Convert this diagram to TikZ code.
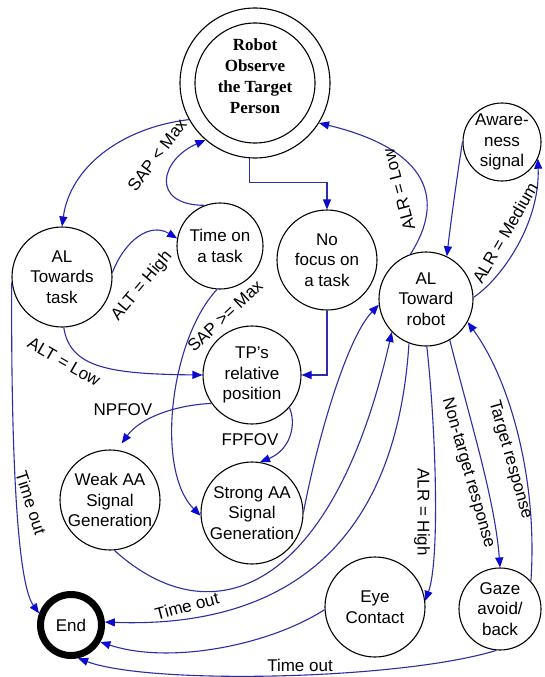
\documentclass[tikz,border=0pt]{standalone}
\usepackage{fontspec}
\setmainfont{Liberation Sans}
\newfontfamily\headfont{Liberation Serif}
\usetikzlibrary{arrows.meta}
\definecolor{edgecol}{RGB}{45,45,165}
\definecolor{arrowcol}{RGB}{10,10,210}
\newcommand\statefont{\fontsize{17}{20.5}\selectfont}
\tikzset{
  state/.style={circle, draw=black, line width=1.1pt, inner sep=0pt, align=center, font=\statefont},
  link/.style={draw=edgecol, line width=1.1pt, -{Triangle[length=10pt,width=8pt,color=arrowcol]}},
  lbl/.style={font=\statefont, inner sep=0pt}
}
\begin{document}
\begin{tikzpicture}[x=1pt,y=-1pt]
\useasboundingbox[fill=white] (0,0) rectangle (545,677);

% states
\node[state, minimum size=150pt] (robot) at (255,83) {};
\draw[line width=1.1pt] (robot.center) circle[radius=60pt];
\node[align=center, font={\headfont\bfseries\fontsize{17}{21}\selectfont}, inner sep=0pt] (robottext) at (255,76) {Robot\\Observe\\the Target\\Person};
\node[state, minimum size=100pt] (altask) at (62,277) {AL\\Towards\\task};
\node[state, minimum size=86pt] (timetask) at (220,246) {Time on\\a task};
\node[state, minimum size=100pt] (nofocus) at (327,260) {No\\focus on\\a task};
\node[state, minimum size=78pt] (aware) at (502,142) {Aware-\\ness\\signal};
\node[state, minimum size=94pt] (alrobot) at (426,299) {AL\\Toward\\robot};
\node[state, minimum size=98pt] (tp) at (252,375) {TP's\\relative\\position};
\node[state, minimum size=100pt] (weakaa) at (110,500) {Weak AA\\Signal\\Generation};
\node[state, minimum size=102pt] (strongaa) at (252,513) {Strong AA\\Signal\\Generation};
\node[state, minimum size=100pt] (eye) at (375,607) {Eye\\Contact};
\node[state, minimum size=82pt] (gaze) at (500,609) {Gaze\\avoid/\\back};
\node[state, minimum size=61pt, line width=7pt] (end) at (71,625) {End};

% transitions
\draw[link] (robot.209) .. controls (120,128) and (70,168) .. (altask.90);
\draw[link] (timetask.111) .. controls (150,205) and (160,160) .. (robot.229);
\node[lbl, rotate=53] (lsapmin) at (157,155) {SAP < Max};
\draw[link] (robot.266) -- ++(0,24) -| (nofocus.north);
\draw[link] (altask.5) .. controls (125,240) and (150,222) .. (timetask.170);
\node[lbl, rotate=50] (lalthigh) at (142,286) {ALT = High};
\draw[link] (altask.272) .. controls (70,368) and (110,374) .. (tp.180);
\node[lbl, rotate=-30] (laltlow) at (64,362) {ALT = Low};
\draw[link] (timetask.266) .. controls (170,340) and (155,470) .. (strongaa.183);
\node[lbl, rotate=43] (lsapmax) at (225,316) {SAP >= Max};
\draw[link] (nofocus.south) |- (tp.east);
\draw[link, shorten >=8pt] (tp.215) .. controls (175,405) and (140,418) .. (weakaa.82);
\node[lbl] (lnpfov) at (123,410) {NPFOV};
\draw[link] (tp.319) .. controls (297,425) and (290,450) .. (strongaa.81);
\node[lbl] (lfpfov) at (250,440) {FPFOV};
\draw[link] (strongaa.1) .. controls (315,450) and (345,340) .. (alrobot.187);
\draw[link] (weakaa.275) .. controls (212,639) and (333,592) .. (alrobot.224);
\draw[link] (alrobot.249) .. controls (395,560) and (270,628) .. (end.5);
\node[lbl, rotate=15] (ltimeout1) at (187,606) {Time out};
\draw[link] (alrobot.271) .. controls (436,430) and (440,560) .. (eye.7);
\node[lbl, rotate=-90] (lalrhigh) at (422,512) {ALR = High};
\draw[link] (alrobot.300) .. controls (470,420) and (495,500) .. (gaze.90);
\node[lbl, rotate=-74] (lnontarget) at (468,473) {Non-target response};
\draw[link] (gaze.42) .. controls (538,480) and (510,380) .. (alrobot.331);
\node[lbl, rotate=-74] (ltarget) at (510,460) {Target response};
\draw[link] (alrobot.109) .. controls (445,200) and (430,150) .. (robot.328);
\node[lbl, rotate=105] (lalrlow) at (399,190) {ALR = Low};
\draw[link] (alrobot.2) .. controls (500,280) and (540,225) .. (aware.335);
\node[lbl, rotate=60] (lalrmed) at (505,233) {ALR = Medium};
\draw[link] (aware.180) .. controls (458,170) and (451,220) .. (alrobot.64);
\draw[link] (altask.186) .. controls (11,420) and (15,580) .. (end.160);
\node[lbl, rotate=-72] (ltimeout2) at (31,503) {Time out};
\draw[link] (eye.183) .. controls (270,645) and (170,665) .. (end.330);
\draw[link] (gaze.265) .. controls (400,680) and (150,685) .. (end.282);
\node[lbl] (ltimeout3) at (300,665) {Time out};
\end{tikzpicture}
\end{document}
